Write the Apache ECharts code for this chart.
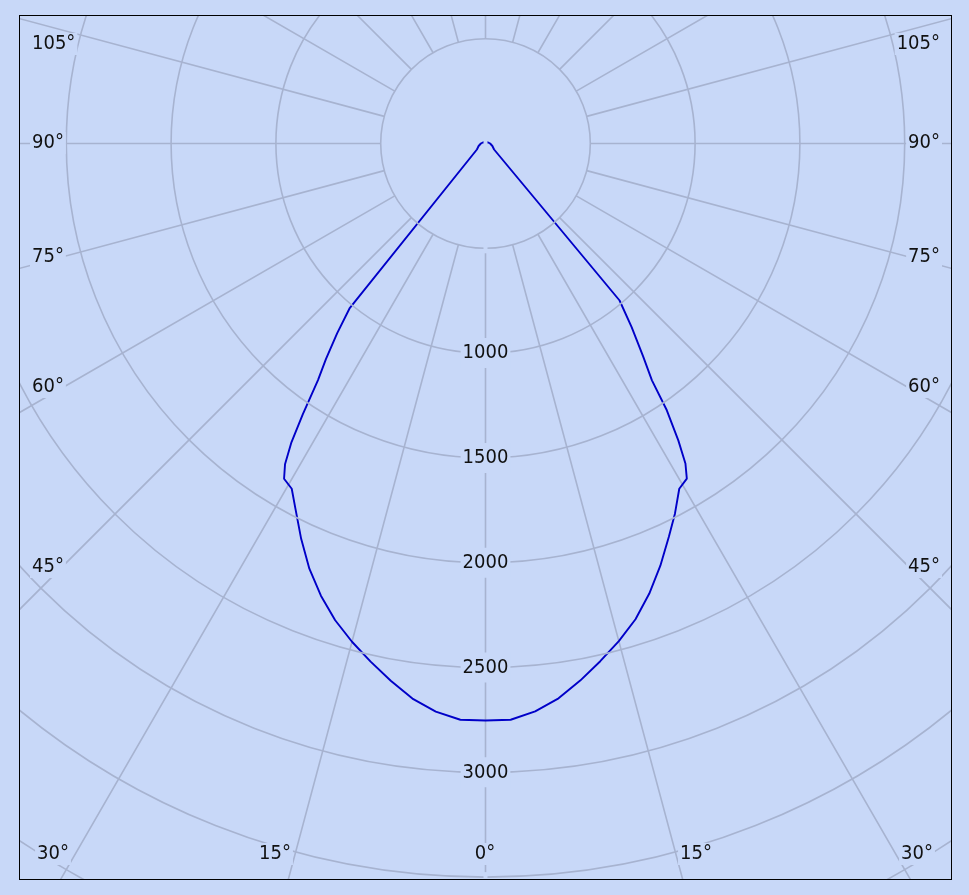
<!DOCTYPE html>
<html><head><meta charset="utf-8">
<script src="https://cdn.jsdelivr.net/npm/echarts@6/dist/echarts.min.js"></script>
<style>
html,body{margin:0;padding:0;background:#c8d8f8;width:969px;height:895px;overflow:hidden}
#chart{position:absolute;left:19px;top:15px;width:931px;height:863px;border:1px solid #000;}
</style></head><body><div id="chart"></div>
<script>
// Luminous intensity (cd) vs. gamma angle (deg), left half-plane
const leftAngles = [0, 2.5, 5, 7.5, 10, 12.5, 15, 17.5, 20, 22.5, 25, 27.5, 29.3, 31, 32, 33, 34, 35.3, 36.5, 38, 39.5, 55, 70, 90, 120, 150, 180];
const leftValues = [2753, 2752, 2721, 2671, 2603, 2532, 2461, 2385, 2296, 2196, 2081, 1964, 1889, 1866, 1805, 1700, 1560, 1383, 1280, 1150, 1020, 50, 35, 22, 12, 6, 3];
// right half-plane
const rightAngles = [0, 2.5, 5, 7.5, 10, 12.5, 15, 17.5, 20, 22.5, 25, 27.1, 29.3, 31, 32, 33, 34.2, 35.1, 36.5, 38.5, 40.5, 55, 70, 90, 120, 150, 180];
const rightValues = [2753, 2752, 2720, 2670, 2602, 2530, 2458, 2380, 2285, 2180, 2070, 1984, 1889, 1865, 1800, 1689, 1539, 1381, 1265, 1120, 985, 50, 35, 22, 12, 6, 3];
// radial tick labels (cd)
const radialTicks = [1000, 1500, 2000, 2500, 3000];
// angle tick labels
const sideLabels = ['105°', '90°', '75°', '60°', '45°'];
const bottomLabels = ['30°', '15°', '0°', '15°', '30°'];

const BG = '#c8d8f8';
const GRID = '#a7b3d0';
const FONT = '"DejaVu Sans Condensed", "DejaVu Sans", sans-serif';
const K = 0.2096; // px per cd
const CENTER = [465.5, 127.5];
const RMAX = 4500;
const RHOLE = 500;

const data = [];
for (let i = leftAngles.length - 1; i >= 0; i--) data.push([leftValues[i], leftAngles[i]]);
for (let i = 0; i < rightAngles.length; i++) data.push([rightValues[i], 360 - rightAngles[i]]);

// layout of angle labels (chart pixel coordinates)
const sideY = [28, 127, 241, 371, 551];
const bottomX = [33, 255, 465, 676, 897];
const graphics = [];
const tstyle = (t, align) => ({text: t, font: '20px ' + FONT, fill: '#111', align: align, verticalAlign: 'middle', backgroundColor: BG, padding: [1, 2]});
sideLabels.forEach((t, i) => {
  graphics.push({type: 'text', x: 10, y: sideY[i], style: tstyle(t, 'left'), z: 100});
  graphics.push({type: 'text', x: 922, y: sideY[i], style: tstyle(t, 'right'), z: 100});
});
bottomLabels.forEach((t, i) => {
  graphics.push({type: 'text', x: bottomX[i], y: 838, style: tstyle(t, 'center'), z: 100});
});

const chart = echarts.init(document.getElementById('chart'), null, {renderer: 'canvas'});
chart.setOption({
  backgroundColor: BG,
  animation: false,
  polar: [
    {center: CENTER, radius: [0, RMAX * K]},
    {center: CENTER, radius: [RHOLE * K, RMAX * K]}
  ],
  angleAxis: [
    {polarIndex: 0, type: 'value', min: 0, max: 360, interval: 15, startAngle: 270, clockwise: true,
     axisLine: {show: false}, axisTick: {show: false}, axisLabel: {show: false}, splitLine: {show: false}},
    {polarIndex: 1, type: 'value', min: 0, max: 360, interval: 15, startAngle: 270, clockwise: true,
     axisLine: {show: false}, axisTick: {show: false}, axisLabel: {show: false},
     splitLine: {show: true, lineStyle: {color: GRID, width: 1.6}}}
  ],
  radiusAxis: [
    {polarIndex: 0, type: 'value', min: 0, max: RMAX, interval: 500,
     axisLine: {show: false}, axisTick: {show: false},
     axisLabel: {
       show: true, margin: 0, rotate: 0, align: 'center', verticalAlign: 'middle',
       fontFamily: FONT, fontSize: 20, color: '#111', backgroundColor: BG, padding: [9, 2, 1, 2],
       formatter: v => radialTicks.includes(v) ? String(v) : ''
     },
     splitLine: {show: true, lineStyle: {color: GRID, width: 1.6}}, z: 50},
    {polarIndex: 1, type: 'value', min: RHOLE, max: RMAX, interval: 500,
     axisLine: {show: false}, axisTick: {show: false}, axisLabel: {show: false}, splitLine: {show: false}}
  ],
  series: [{
    type: 'line', coordinateSystem: 'polar', polarIndex: 0, data: data, showSymbol: false, symbol: 'none',
    smooth: false, clip: false, lineStyle: {color: '#0000c8', width: 1.9}, z: 10
  }],
  graphic: graphics
});
</script></body></html>
